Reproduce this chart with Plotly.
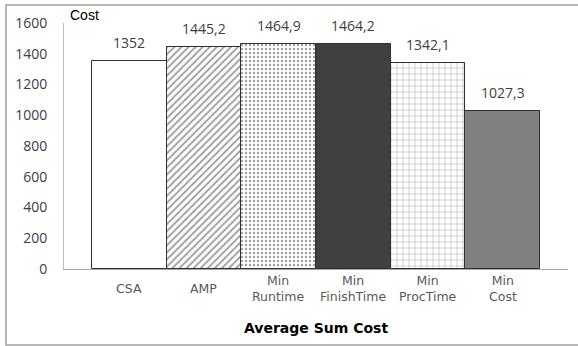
import plotly.graph_objects as go

categories = ["CSA", "AMP", "Min<br>Runtime", "Min<br>FinishTime", "Min<br>ProcTime", "Min<br>Cost"]
costs = [1352, 1445.2, 1464.9, 1464.2, 1342.1, 1027.3]
y_ticks = [0, 200, 400, 600, 800, 1000, 1200, 1400, 1600]

fills = ["white", "white", "white", "#404040", "white", "#808080"]
shapes = ["", "/", ".", "", "+", ""]
pat_sizes = [8, 5, 4, 8, 6, 8]
pat_solid = [0.3, 0.4, 0.3, 0.3, 0.15, 0.3]

labels = [f"{v:g}".replace(".", ",") for v in costs]
xpos = list(range(len(categories)))

fig = go.Figure()
fig.add_trace(go.Bar(
    x=xpos, y=costs, width=1.0,
    marker=dict(
        color=fills,
        line=dict(color="#303030", width=1),
        pattern=dict(shape=shapes, size=pat_sizes, solidity=pat_solid,
                     fgcolor="#3a3a3a", bgcolor="white", fillmode="overlay"),
    ),
    showlegend=False, hoverinfo="skip",
))

annotations = []
# value labels above each bar
for x, v, t in zip(xpos, costs, labels):
    annotations.append(dict(
        x=x, y=v, xref="x", yref="y", text=t, showarrow=False,
        xanchor="center", yanchor="bottom", yshift=7,
        font=dict(family="Open Sans", size=14, color="#404040"),
    ))
# category labels, centred vertically under the axis
for x, c in zip(xpos, categories):
    annotations.append(dict(
        x=x, y=(269 - 288) / 246, xref="x", yref="paper", text=c, showarrow=False,
        xanchor="center", yanchor="middle",
        font=dict(family="DejaVu Sans", size=12.5, color="#595959"),
    ))
# axis title and unit label
annotations.append(dict(
    x=0.5, y=(269 - 328) / 246, xref="paper", yref="paper",
    text="<b>Average Sum Cost</b>", showarrow=False,
    xanchor="center", yanchor="middle",
    font=dict(family="DejaVu Sans", size=14, color="black"),
))
annotations.append(dict(
    text="Cost", xref="paper", yref="paper", x=(68 - 64) / 504, y=(269 - 15) / 246,
    xanchor="left", yanchor="middle", showarrow=False,
    font=dict(family="Liberation Sans", size=14, color="black"),
))

fig.update_layout(
    width=578, height=346,
    margin=dict(l=64, r=10, t=23, b=77),
    paper_bgcolor="white", plot_bgcolor="white",
    bargap=0,
    xaxis=dict(
        range=[-0.874, 5.874], showticklabels=False,
        showline=True, linecolor="#a6a6a6", linewidth=1,
        ticks="", showgrid=False, zeroline=False,
    ),
    yaxis=dict(
        range=[0, 1600], tickvals=y_ticks,
        showline=True, linecolor="#bfbfbf", linewidth=1,
        ticks="", showgrid=False, zeroline=False,
        tickfont=dict(family="Open Sans", size=14, color="#404040"),
        ticklabelstandoff=13,
    ),
    annotations=annotations,
    shapes=[dict(
        type="rect", xref="paper", yref="paper", layer="below",
        x0=(6 - 64) / 504, x1=(590 - 64) / 504,
        y0=(269 - 345) / 246, y1=(269 - 5) / 246,
        line=dict(color="#a0a0a0", width=1.5), fillcolor="rgba(0,0,0,0)",
    )],
)

fig.write_html("out.html")
